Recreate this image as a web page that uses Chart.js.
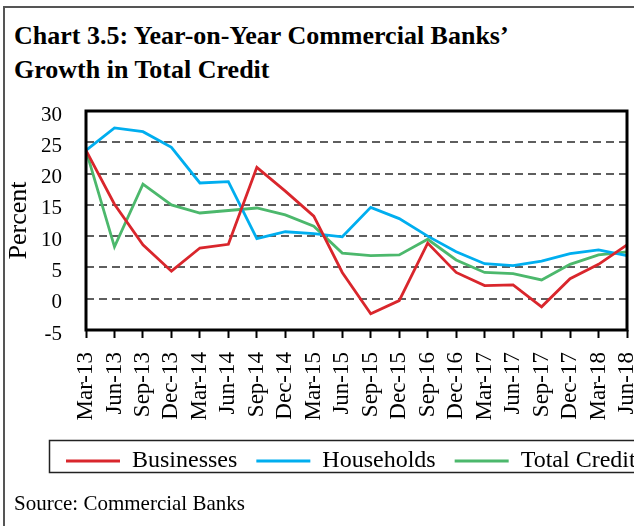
<!DOCTYPE html>
<html>
<head>
<meta charset="utf-8">
<script src="https://cdn.jsdelivr.net/npm/chart.js@4/dist/chart.umd.min.js"></script>
<style>
  html, body { margin: 0; padding: 0; background: #fff; }
  body { width: 634px; height: 526px; position: relative; overflow: hidden; font-family: 'Liberation Serif', 'Times New Roman', serif; }
  #frame { position: absolute; left: 3px; top: 6px; width: 700px; height: 600px; border: 2px solid #555; box-sizing: border-box; }
  #title { position: absolute; left: 14px; top: 19px; font-weight: bold; font-size: 26px; line-height: 34px; color: #000; white-space: nowrap; }
  #source { position: absolute; left: 14px; top: 493px; font-size: 21px; line-height: 21px; color: #000; white-space: nowrap; }
  #c { position: absolute; left: 0; top: 0; }
</style>
</head>
<body>
<div id="frame"></div>
<div id="title">Chart 3.5: Year-on-Year Commercial Banks’<br>Growth in Total Credit</div>
<canvas id="c" width="634" height="526"></canvas>
<div id="source">Source: Commercial Banks</div>
<script>
const categories = ['Mar-13','Jun-13','Sep-13','Dec-13','Mar-14','Jun-14','Sep-14','Dec-14','Mar-15','Jun-15','Sep-15','Dec-15','Sep-16','Dec-16','Mar-17','Jun-17','Sep-17','Dec-17','Mar-18','Jun-18'];
const businesses  = [23.7,15.1,8.6,4.4,8.1,8.7,21.0,17.2,13.2,4.2,-2.4,-0.3,8.9,4.2,2.1,2.2,-1.3,3.2,5.5,8.6];
const households  = [23.7,27.3,26.7,24.2,18.5,18.7,9.6,10.7,10.4,9.9,14.6,12.8,10.0,7.5,5.6,5.3,6.0,7.2,7.8,6.9];
const totalCredit = [23.7,8.3,18.3,15.0,13.7,14.1,14.5,13.4,11.6,7.3,6.9,7.0,9.5,6.2,4.2,4.0,3.0,5.5,7.0,7.5];
const seriesNames = ['Businesses','Households','Total Credit'];
const yMin = -5, yMax = 30, yStep = 5;

const FONT = "'Liberation Serif', 'Times New Roman', serif";

const framePlugin = {
  id: 'framePlugin',
  afterLayout(chart) {
    const lg = chart.legend;
    if (lg) {
      lg.left = 47;
      lg.right = 1200;
      lg.top = 430;
      lg.bottom = 480;
    }
  },
  afterDraw(chart) {
    const ctx = chart.ctx;
    const a = chart.chartArea;
    ctx.save();
    ctx.strokeStyle = '#000';
    ctx.lineWidth = 3;
    ctx.strokeRect(a.left, a.top, a.right - a.left, a.bottom - a.top);
    ctx.lineWidth = 1.5;
    ctx.strokeStyle = '#222';
    ctx.strokeRect(49.5, 440.5, 700, 32);
    ctx.restore();
  }
};

new Chart(document.getElementById('c'), {
  type: 'line',
  data: {
    labels: categories,
    datasets: [
      { label: seriesNames[0], data: businesses,  borderColor: '#d9262c', backgroundColor: '#d9262c', borderWidth: 2.8 },
      { label: seriesNames[1], data: households,  borderColor: '#00aeef', backgroundColor: '#00aeef', borderWidth: 2.8 },
      { label: seriesNames[2], data: totalCredit, borderColor: '#4cb86c', backgroundColor: '#4cb86c', borderWidth: 2.8 }
    ]
  },
  options: {
    responsive: false,
    animation: false,
    devicePixelRatio: 1,
    elements: {
      line: { borderWidth: 2.8, tension: 0 },
      point: { radius: 0, hoverRadius: 0 }
    },
    layout: { padding: { left: 4, right: 7, top: 111, bottom: 0 } },
    plugins: {
      title: { display: false },
      tooltip: { enabled: false },
      legend: {
        display: true,
        position: 'bottom',
        align: 'start',
        labels: {
          usePointStyle: true,
          pointStyle: 'line',
          pointStyleWidth: 54,
          padding: 19,
          color: '#000',
          font: { family: FONT, size: 24 }
        }
      }
    },
    scales: {
      x: {
        type: 'category',
        offset: false,
        grid: { display: true, drawOnChartArea: false, drawTicks: true, tickLength: 8, tickColor: '#000', tickWidth: 2 },
        border: { display: false },
        ticks: {
          autoSkip: false, maxRotation: 90, minRotation: 90, padding: 14,
          color: '#000', font: { family: FONT, size: 23 }
        },
        afterFit(s) {
          const lgH = (s.chart.legend && s.chart.legend.height) ? s.chart.legend.height : 50;
          s.height = s.chart.height - 330 - lgH;
          s.paddingLeft = 0; s.paddingRight = 0;
        }
      },
      y: {
        min: yMin, max: yMax,
        grid: {
          drawTicks: false,
          lineWidth: 2,
          color: (c) => (c.tick && (c.tick.value === yMin || c.tick.value === yMax)) ? 'rgba(0,0,0,0)' : '#5e5e5e'
        },
        border: { display: false, dash: [8, 5] },
        ticks: {
          stepSize: yStep, padding: 24, labelOffset: 4,
          color: '#000', font: { family: FONT, size: 21 }
        },
        title: {
          display: true, text: 'Percent', color: '#000', padding: 0,
          font: { family: FONT, size: 26, lineHeight: 1.2 }
        },
        afterFit(s) { s.width = 82; }
      }
    }
  },
  plugins: [framePlugin]
});
</script>
</body>
</html>
